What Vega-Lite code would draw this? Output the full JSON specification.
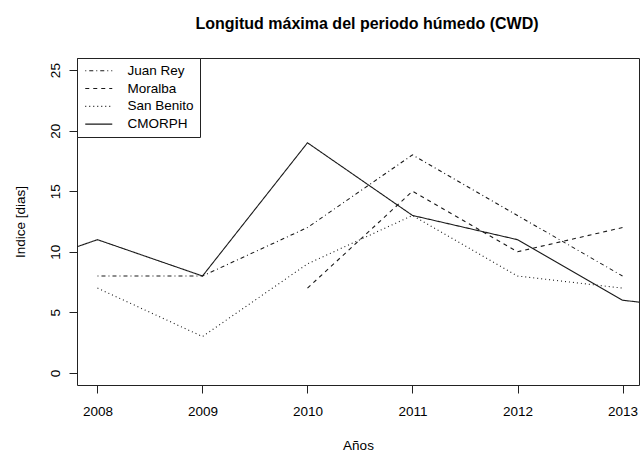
{
  "$schema": "https://vega.github.io/schema/vega-lite/v6.json",
  "width": 562,
  "height": 327,
  "autosize": {"type": "none"},
  "padding": {"left": 77, "top": 58, "right": 1, "bottom": 68},
  "background": "white",
  "config": {
    "font": "Liberation Sans",
    "view": {"stroke": "#222222", "strokeWidth": 1},
    "axis": {"domain": false, "grid": false, "tickColor": "#222222", "tickSize": 8, "labelColor": "black", "titleColor": "black", "labelFont": "Liberation Sans", "titleFont": "Liberation Sans", "labelFontSize": 13.5, "titleFontSize": 13.5, "titleFontWeight": "normal"}
  },
  "title": {"text": "Longitud máxima del periodo húmedo (CWD)", "fontSize": 16, "fontWeight": "bold", "font": "Liberation Sans", "color": "black", "anchor": "middle", "frame": "group", "dx": 9, "offset": 26},
  "data": {"values": [
    {"year": 2008, "value": 8, "series": "Juan Rey"},
    {"year": 2009, "value": 8, "series": "Juan Rey"},
    {"year": 2010, "value": 12, "series": "Juan Rey"},
    {"year": 2011, "value": 18, "series": "Juan Rey"},
    {"year": 2012, "value": 13, "series": "Juan Rey"},
    {"year": 2013, "value": 8, "series": "Juan Rey"},
    {"year": 2010, "value": 7, "series": "Moralba"},
    {"year": 2011, "value": 15, "series": "Moralba"},
    {"year": 2012, "value": 10, "series": "Moralba"},
    {"year": 2013, "value": 12, "series": "Moralba"},
    {"year": 2008, "value": 7, "series": "San Benito"},
    {"year": 2009, "value": 3, "series": "San Benito"},
    {"year": 2010, "value": 9, "series": "San Benito"},
    {"year": 2011, "value": 13, "series": "San Benito"},
    {"year": 2012, "value": 8, "series": "San Benito"},
    {"year": 2013, "value": 7, "series": "San Benito"},
    {"year": 2007, "value": 8, "series": "CMORPH"},
    {"year": 2008, "value": 11, "series": "CMORPH"},
    {"year": 2009, "value": 8, "series": "CMORPH"},
    {"year": 2010, "value": 19, "series": "CMORPH"},
    {"year": 2011, "value": 13, "series": "CMORPH"},
    {"year": 2012, "value": 11, "series": "CMORPH"},
    {"year": 2013, "value": 6, "series": "CMORPH"},
    {"year": 2014, "value": 5, "series": "CMORPH"}
  ]},
  "mark": {"type": "line", "clip": true, "color": "#1a1a1a", "strokeWidth": 1.1},
  "encoding": {
    "x": {"field": "year", "type": "quantitative",
      "scale": {"domain": [2007.805, 2013.157], "nice": false, "zero": false},
      "axis": {"values": [2008, 2009, 2010, 2011, 2012, 2013], "format": "d", "title": "Años", "labelPadding": 11, "titlePadding": 21}},
    "y": {"field": "value", "type": "quantitative",
      "scale": {"domain": [-1, 26], "nice": false, "zero": false},
      "axis": {"values": [0, 5, 10, 15, 20, 25], "title": "Indice [dias]", "labelAngle": -90, "labelAlign": "center", "labelBaseline": "bottom", "labelPadding": 7, "titlePadding": 21}},
    "strokeDash": {"field": "series", "type": "nominal",
      "scale": {"domain": ["Juan Rey", "Moralba", "San Benito", "CMORPH"], "range": [[1, 3, 4, 3], [4, 4], [1, 3], [1, 0]]},
      "legend": {"title": null, "orient": "none", "legendX": 0, "legendY": 0, "strokeColor": "#222222", "padding": 6, "symbolType": "M-1,0H5", "symbolSize": 81, "symbolStrokeColor": "#1a1a1a", "symbolStrokeWidth": 1.1, "labelFontSize": 13.5, "labelFont": "Liberation Sans", "labelColor": "black", "labelOffset": 31, "rowPadding": 2.8, "fillColor": "white"}}
  }
}
